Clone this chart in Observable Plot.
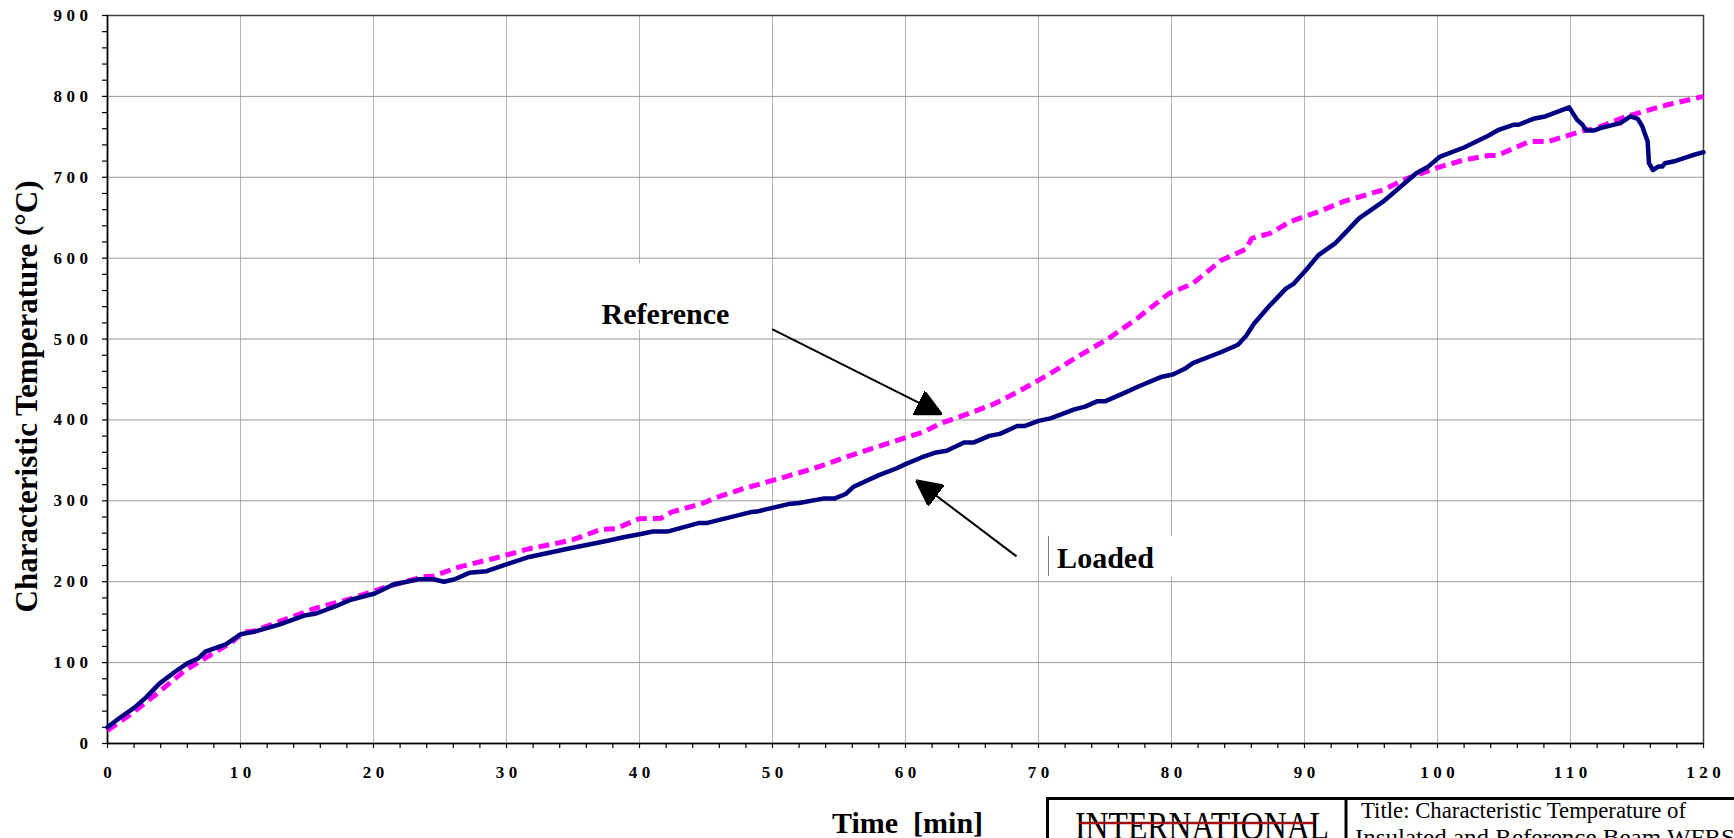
<!DOCTYPE html>
<html>
<head>
<meta charset="utf-8">
<script src="https://cdn.jsdelivr.net/npm/d3@7"></script>
<script src="https://cdn.jsdelivr.net/npm/@observablehq/plot@0.6"></script>
<style>
  html, body { margin: 0; padding: 0; background: #fff; }
  #wrap { position: relative; width: 1734px; height: 838px; overflow: hidden; background: #fff; }
  #stamp { position: absolute; left: 0; top: 0; pointer-events: none; }
</style>
</head>
<body>
<div id="wrap"></div>
<script>
// Time (min) and characteristic temperature (°C) of the loaded beam
const loadedTime = [0, 0.9, 2.0, 2.9, 3.9, 5.1, 6.0, 6.8, 7.4, 8.9, 10.0, 11.0, 12.9, 14.9, 15.7, 17.2, 18.3, 20.1, 21.5, 23.4, 24.5, 25.3, 26.1, 27.2, 28.5, 30.1, 31.7, 34.7, 37.7, 38.8, 40.1, 41.0, 42.1, 44.5, 45.1, 48.3, 48.8, 51.2, 52.0, 53.9, 54.7, 55.5, 56.1, 58.0, 59.3, 60.0, 61.2, 62.3, 63.1, 64.4, 65.1, 66.3, 67.1, 68.4, 69.0, 70.0, 70.9, 72.7, 73.5, 74.4, 75.0, 76.5, 77.6, 79.2, 80.1, 81.0, 81.6, 83.75, 85.0, 85.6, 86.2, 87.4, 88.6, 89.2, 90.1, 91.05, 92.3, 92.9, 94.1, 95.9, 96.5, 98.4, 99.3, 100.2, 102.0, 103.85, 104.6, 105.7, 106.1, 107.2, 108.1, 109.9, 110.5, 110.9, 111.2, 111.8, 112.4, 113.75, 114.5, 115.06, 115.4, 115.8, 115.9, 116.2, 116.6, 116.9, 117.1, 117.9, 119.1, 120];
const loadedTemp = [20, 31.5, 44, 57, 74, 89, 99, 105, 114, 122.5, 135, 138, 147, 158.6, 160.7, 170, 177.7, 185.5, 196.5, 203, 203, 200, 203, 211, 213, 222, 230.6, 241, 251, 255, 259, 262, 262, 272.7, 272.7, 285.8, 286.7, 296, 297.3, 303, 303, 308.4, 317.5, 331.8, 340, 345.4, 353.6, 359.8, 361.8, 372, 372, 380.3, 382.8, 392.6, 392.6, 398.8, 402, 413, 416.4, 423, 423, 433.7, 442, 453, 456.2, 463.2, 470.2, 484, 493, 503.7, 519, 541.7, 562.4, 568.6, 585, 603.7, 618.2, 628.5, 649.2, 669.8, 678, 705, 713.2, 725.6, 736.8, 751.7, 758.7, 764.9, 764.9, 772.3, 775.2, 786.4, 771, 765, 757.9, 757.9, 761.6, 767, 775.2, 772.3, 762.8, 744.2, 717.4, 709, 713.2, 713.2, 717.4, 720.2, 726.9, 731];

// Time (min) and characteristic temperature (°C) of the reference beam
const referenceTime = [0, 1.9, 3.6, 5.8, 7.4, 9.4, 10.2, 11.0, 12.9, 15.6, 18.3, 21.0, 23.7, 24.5, 26.4, 29.1, 31.75, 33.9, 35.0, 37.1, 38.2, 40.0, 41.6, 42.4, 44.8, 45.6, 47.7, 50.4, 53.1, 55.8, 58.5, 61.2, 62.8, 64.1, 66.6, 68.7, 70.9, 73.0, 75.2, 77.3, 79.8, 81.6, 83.75, 85.6, 86.03, 87.4, 88.9, 91.05, 92.9, 95.9, 97.75, 100, 102, 103.85, 104.5, 106.9, 108.3, 111.2, 111.6, 114.2, 117.3, 120];
const referenceTemp = [16, 38, 60, 90, 106, 126, 137.5, 139, 150.6, 167, 179, 193.7, 206, 207, 218, 229, 241, 248, 252, 264.7, 265.5, 278, 278.4, 286, 297.3, 303, 314.6, 327, 340, 355.6, 370, 384.4, 396.7, 404, 419.3, 437, 457.5, 478.8, 500, 524, 556.2, 568.6, 597.5, 611.2, 624.4, 630.6, 645, 657.4, 669.8, 684.3, 698.8, 712, 721.5, 726.9, 726.9, 744.2, 744.2, 758.7, 758.7, 775.2, 789.7, 800];

// Axis ticks
const xTickValues = [0, 10, 20, 30, 40, 50, 60, 70, 80, 90, 100, 110, 120];
const yTickValues = [0, 100, 200, 300, 400, 500, 600, 700, 800, 900];
const xMinorTicks = d3.range(0, 121, 2);
const yMinorTicks = d3.range(0, 901, 20);

// Annotation labels, their text boxes and pointer arrows
const labelNames = ["Reference", "Loaded"];
const labelTime = [41.95, 71.4];
const labelTemp = [530, 229];
const labelAnchor = ["middle", "start"];
const boxTime1 = [36.3, 70.75];
const boxTime2 = [48.0, 81.0];
const boxTemp1 = [511.5, 206.6];
const boxTemp2 = [592.8, 256.0];
const arrowFromTime = [49.97, 68.35];
const arrowFromTemp = [512.2, 231.3];
const arrowToTime = [62.6, 60.9];
const arrowToTemp = [408.1, 323.9];

const loaded = loadedTime.map((t, i) => ({t, temp: loadedTemp[i]}));
const reference = referenceTime.map((t, i) => ({t, temp: referenceTemp[i]}));
const labels = labelNames.map((name, i) => ({name, t: labelTime[i], temp: labelTemp[i], anchor: labelAnchor[i]}));
const boxes = labelNames.map((name, i) => ({x1: boxTime1[i], x2: boxTime2[i], y1: boxTemp1[i], y2: boxTemp2[i]}));
const arrows = labelNames.map((name, i) => ({x1: arrowFromTime[i], y1: arrowFromTemp[i], x2: arrowToTime[i], y2: arrowToTemp[i]}));

// Solid triangular arrowhead
function solidHead(color) {
  const ns = "http://www.w3.org/2000/svg";
  const m = document.createElementNS(ns, "marker");
  m.setAttribute("viewBox", "0 -13 26 26");
  m.setAttribute("markerWidth", 26);
  m.setAttribute("markerHeight", 26);
  m.setAttribute("markerUnits", "userSpaceOnUse");
  m.setAttribute("refX", 24);
  m.setAttribute("refY", 0);
  m.setAttribute("orient", "auto");
  const p = document.createElementNS(ns, "path");
  p.setAttribute("d", "M0,-13L26,0L0,13Z");
  p.setAttribute("fill", "black");
  m.appendChild(p);
  return m;
}

const serif = "'Liberation Serif', 'Times New Roman', serif";

function build(head) {
  return Plot.plot({
    width: 1734,
    height: 838,
    marginLeft: 107,
    marginRight: 31,
    marginTop: 15,
    marginBottom: 95,
    style: {fontFamily: serif, fontWeight: "bold", background: "white", color: "black", overflow: "visible"},
    x: {domain: [0, 120], axis: null},
    y: {domain: [0, 900], axis: null},
    marks: [
      Plot.gridX(xTickValues, {stroke: "#b4b4b4", strokeOpacity: 1, strokeWidth: 1}),
      Plot.gridY(yTickValues, {stroke: "#9a9a9a", strokeOpacity: 1, strokeWidth: 1}),
      Plot.frame({stroke: "#404040", strokeWidth: 1.5}),
      Plot.rect(boxes, {x1: "x1", x2: "x2", y1: "y1", y2: "y2", fill: "white"}),
      Plot.ruleX(boxes.slice(1), {x: "x1", y1: "y1", y2: "y2", stroke: "#777", strokeWidth: 1}),
      // outward tick marks every 2 min and every 20 °C
      Plot.ruleX(xMinorTicks, {x: (d) => d, y1: 0, y2: 0, insetTop: 5, stroke: "black", strokeWidth: 1.2}),
      Plot.ruleY(yMinorTicks, {y: (d) => d, x1: 0, x2: 0, insetLeft: -5, stroke: "black", strokeWidth: 1.2}),
      // numbered tick labels
      Plot.text(xTickValues, {x: (d) => d, y: 0, dy: 29, dx: 2.25, textAnchor: "middle", lineAnchor: "middle", fontSize: 17, fontWeight: "bold", fill: "black"}),
      Plot.text(yTickValues, {x: 0, y: (d) => d, dx: -15, textAnchor: "end", lineAnchor: "middle", fontSize: 17, fontWeight: "bold", fill: "black"}),
      Plot.ruleX([0], {stroke: "black", strokeWidth: 1.5}),
      Plot.ruleY([0], {stroke: "black", strokeWidth: 1.5}),
      Plot.line(reference, {x: "t", y: "temp", stroke: "#ff00ff", strokeWidth: 5, strokeDasharray: "11,6", strokeLinecap: "butt"}),
      Plot.line(loaded, {x: "t", y: "temp", stroke: "#000080", strokeWidth: 4.5, strokeLinejoin: "round"}),
      Plot.link(arrows, {x1: "x1", y1: "y1", x2: "x2", y2: "y2", stroke: "black", strokeWidth: 2, markerEnd: head}),
      Plot.text(labels, {x: "t", y: "temp", text: "name", textAnchor: "start", fontSize: 30, fontWeight: "bold", fill: "black", filter: (d) => d.anchor === "start"}),
      Plot.text(labels, {x: "t", y: "temp", text: "name", textAnchor: "middle", fontSize: 30, fontWeight: "bold", fill: "black", filter: (d) => d.anchor === "middle"}),
      Plot.text(["Characteristic Temperature (°C)"], {frameAnchor: "left", textAnchor: "middle", lineAnchor: "middle", rotate: -90, dx: -80, dy: 17, fontSize: 31, fontWeight: "bold", fill: "black"}),
      Plot.text(["Time\u00a0 [min]"], {frameAnchor: "bottom", textAnchor: "middle", lineAnchor: "middle", dx: 2, dy: 80, fontSize: 30, fontWeight: "bold", fill: "black"})
    ]
  });
}

let chart;
try { chart = build(solidHead); } catch (e) { chart = build("arrow"); }
document.getElementById("wrap").appendChild(chart);

// Widely spaced bold numerals on both axes
d3.select(chart).selectAll("text")
  .filter(function () { return /^\d+$/.test(this.textContent); })
  .style("font-size", "17px")
  .style("letter-spacing", "4.5px");

// Document title block at the foot of the page
const stamp = d3.select("#wrap").append("svg")
  .attr("id", "stamp").attr("width", 1734).attr("height", 838)
  .style("font-family", serif);
stamp.append("rect").attr("x", 1047.5).attr("y", 798.5).attr("width", 760).attr("height", 100)
  .attr("fill", "white").attr("stroke", "black").attr("stroke-width", 3);
stamp.append("line").attr("x1", 1346).attr("x2", 1346).attr("y1", 798).attr("y2", 840)
  .attr("stroke", "black").attr("stroke-width", 3);
stamp.append("text").attr("x", 1075).attr("y", 839).attr("font-size", 40)
  .attr("textLength", 254).attr("lengthAdjust", "spacingAndGlyphs").text("INTERNATIONAL");
stamp.append("line").attr("x1", 1079).attr("x2", 1313).attr("y1", 823).attr("y2", 823)
  .attr("stroke", "#a01010").attr("stroke-width", 2.5);
stamp.append("text").attr("x", 1361).attr("y", 818).attr("font-size", 24)
  .attr("textLength", 325).attr("lengthAdjust", "spacingAndGlyphs").text("Title: Characteristic Temperature of");
stamp.append("text").attr("x", 1355).attr("y", 845).attr("font-size", 24)
  .attr("textLength", 380).attr("lengthAdjust", "spacingAndGlyphs").text("Insulated and Reference Beam WFRS");
</script>
</body>
</html>
